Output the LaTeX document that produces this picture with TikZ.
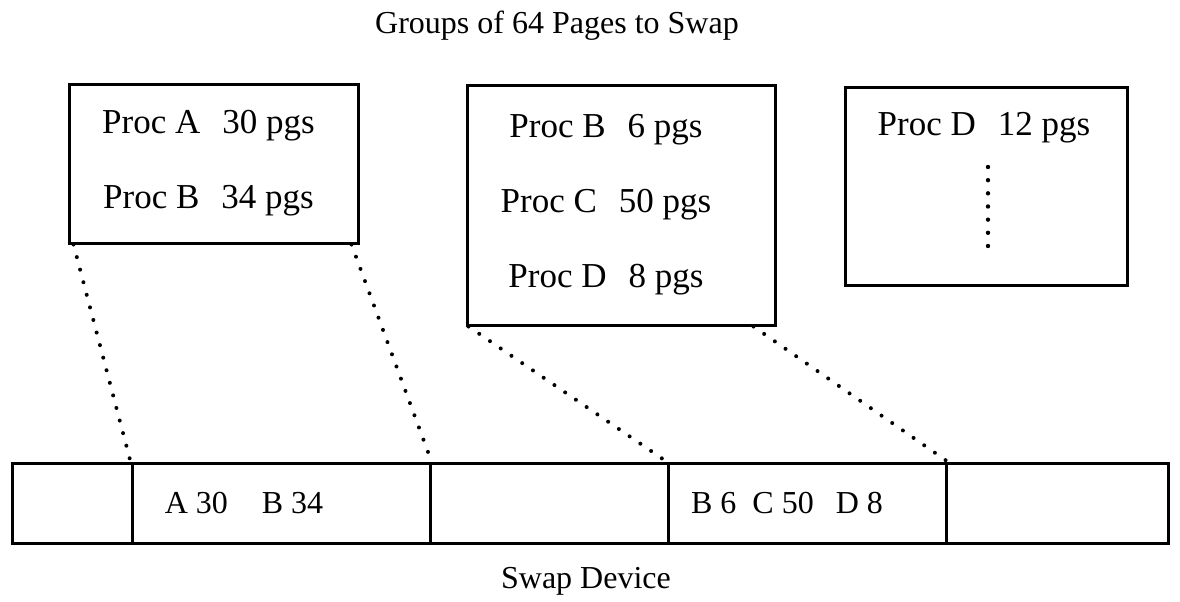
\documentclass[tikz,border=0pt]{standalone}
\usepackage{fontspec}
\setmainfont{Liberation Serif}
\usetikzlibrary{positioning,calc}

\begin{document}
\begin{tikzpicture}[
  x=0.5pt, y=-0.5pt,
  every node/.style={font=\fontsize{16}{20}\selectfont},
  group/.style={draw, line width=1.5pt, align=center, inner sep=0pt,
    font=\fontsize{17.5}{37.5}\selectfont},
  seg/.style={draw, line width=1.5pt, minimum height=40pt, inner sep=0pt},
  link/.style={line width=2pt, line cap=round, dash pattern=on 0pt off 6.5pt},
  more/.style={line width=2.2pt, line cap=round, dash pattern=on 0pt off 6.58pt},
]
\useasboundingbox (0,0) rectangle (1180,601);

\node[anchor=base] (title) at (557,33) {Groups of 64 Pages to Swap};

% page groups
\node[group, minimum width=144.5pt, minimum height=79.5pt] (g1) at (213.5,163.5)
  {Proc A\hspace{11pt}30 pgs\kern5pt\\Proc B\hspace{11pt}34 pgs\kern5pt};
\node[group, minimum width=154pt, minimum height=120pt] (g2) at (621,205)
  {Proc B\hspace{11pt}6 pgs\kern15pt\\Proc C\hspace{11pt}50 pgs\kern15pt\\Proc D\hspace{11pt}8 pgs\kern15pt};
\node[group, minimum width=141pt, minimum height=99pt] (g3) at (986,186) {};
\node[font=\fontsize{17.5}{20}\selectfont] (g3text) at (984,128) {Proc D\hspace{11pt}12 pgs};
\coordinate (dtop) at (988,167);
\coordinate (dbot) at (988,246);
\draw[more] (dtop) -- (dbot);

% swap device
\node[seg, minimum width=60pt] (s1) at (72,503) {};
\node[seg, minimum width=149pt] (s2) at (281,503) {};
\node[seg, minimum width=119pt] (s3) at (549,503) {};
\node[seg, minimum width=139pt] (s4) at (807,503) {};
\node[seg, minimum width=111pt] (s5) at (1057,503) {};
\node[xshift=-18.5pt] (s2text) at (s2) {A 30\hspace{17pt}B 34};
\node[xshift=-10pt] (s4text) at (s4) {B 6\hspace{8pt}C 50\hspace{11pt}D 8};
\node[anchor=base] (device) at (586,588) {Swap Device};

\draw[link] ([xshift=3pt]g1.south west) -- (s2.north west);
\draw[link] ([xshift=-4pt]g1.south east) -- (s2.north east);
\draw[link] ([xshift=1.5pt]g2.south west) -- (s4.north west);
\draw[link] ([xshift=-11.5pt]g2.south east) -- (s4.north east);

\end{tikzpicture}
\end{document}
